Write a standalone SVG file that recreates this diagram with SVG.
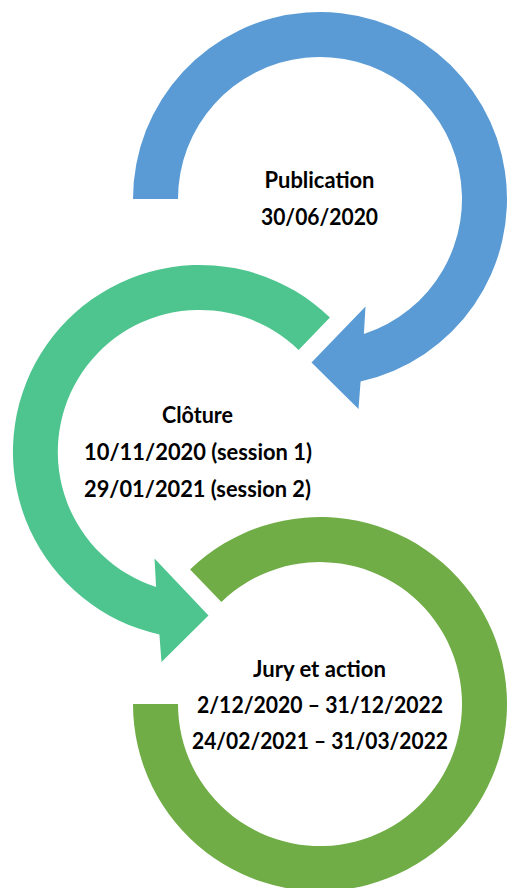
<svg xmlns="http://www.w3.org/2000/svg" width="508" height="888" viewBox="0 0 508 888">
<style>
.lbl{font-family:Lato,"Open Sans","Liberation Sans",sans-serif;font-weight:bold;font-size:22.5px;fill:#000;text-anchor:middle}
</style>
<rect width="508" height="888" fill="#fff"/>
<g id="connectors"></g>
<g id="node-publication">
<path fill="#5B9BD5" d="M133,199 A187,187 0 1 1 360.6,381.5 L358.5,409 L311.5,362.5 L365.5,306.5 L363.9,334 A142,142 0 1 0 178,199 Z"/>
<text class="lbl" x="319.5" y="188" textLength="110" lengthAdjust="spacingAndGlyphs">Publication</text>
<text class="lbl" x="319.5" y="225" textLength="117" lengthAdjust="spacingAndGlyphs">30/06/2020</text>
</g>
<g id="node-cloture">
<path fill="#4EC58E" d="M329.9,317.5 A187,187 0 1 0 159.4,634.5 L161.5,662 L208.5,615.5 L154.5,558.5 L156.1,587 A142,142 0 1 1 298.6,349.9 Z"/>
<text class="lbl" x="197.5" y="423" textLength="71" lengthAdjust="spacingAndGlyphs">Clôture</text>
<text class="lbl" x="198" y="460" textLength="228" lengthAdjust="spacingAndGlyphs">10/11/2020 (session 1)</text>
<text class="lbl" x="197.5" y="497" textLength="227" lengthAdjust="spacingAndGlyphs">29/01/2021 (session 2)</text>
</g>
<g id="node-jury">
<path fill="#70AD47" d="M190.1,569.5 A187,187 0 1 1 133,704 L178,704 A142,142 0 1 0 221.4,601.9 Z"/>
<text class="lbl" x="319.5" y="677" textLength="133" lengthAdjust="spacingAndGlyphs">Jury et action</text>
<text class="lbl" x="320" y="713" textLength="246" lengthAdjust="spacingAndGlyphs">2/12/2020 – 31/12/2022</text>
<text class="lbl" x="320" y="749" textLength="256" lengthAdjust="spacingAndGlyphs">24/02/2021 – 31/03/2022</text>
</g>
</svg>
